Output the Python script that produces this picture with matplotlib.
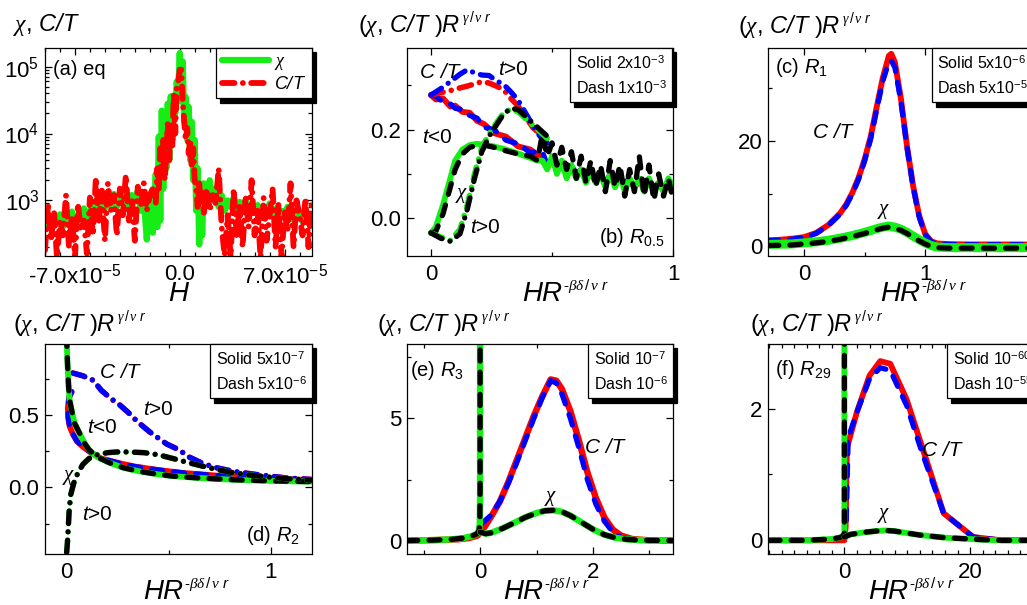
import matplotlib

matplotlib.use("Agg")
import matplotlib.pyplot as plt
import numpy as np
from matplotlib.lines import Line2D
from matplotlib.ticker import (FixedLocator, FormatStrFormatter, LogLocator,
                               NullFormatter, FixedFormatter)

plt.rcParams.update({
    "font.family": "Liberation Sans",
    "mathtext.fontset": "custom",
    "mathtext.rm": "Liberation Sans",
    "mathtext.it": "Liberation Serif:italic",
    "mathtext.sf": "Liberation Sans:italic",
    "lines.scale_dashes": False,
    "lines.solid_capstyle": "round",
    "lines.dash_capstyle": "round",
    "lines.solid_joinstyle": "round",
    "lines.dash_joinstyle": "round",
    "axes.linewidth": 0.9,
    "xtick.direction": "in", "ytick.direction": "in",
    "xtick.top": True, "ytick.right": True,
    "xtick.minor.visible": False, "ytick.minor.visible": False,
})

W, H = 1027, 605
GREEN = "#14ee14"
RED = "#ff0000"
BLUE = "#0000ff"
BLACK = "#000000"
DASH = (0, (8, 8))
DASHDOT = (0, (9, 6, 0.01, 6))

# ---------------------------------------------------------------- (a) eq
H_A = [-90, -88, -86, -84, -82, -80, -78, -76, -74, -72,
       -70, -68, -66, -64, -62, -60, -58, -56, -54, -52,
       -50, -48, -46, -44, -42, -40, -38, -36, -34, -32,
       -30, -28, -26, -24, -22, -20, -18, -16,
       -15, -14, -13, -12, -11, -10, -9, -8, -7, -6,
       -5, -4, -3, -2, -1, 0, 1, 2, 3, 4,
       5, 6, 7, 8, 9, 10, 11, 12, 13, 14,
       15, 16, 18, 20, 22, 24, 26, 28, 30, 32, 34,
       36, 38, 40, 42, 44, 46, 48, 50, 52, 54,
       56, 58, 60, 62, 64, 66, 68, 70, 72, 74,
       76, 78, 80, 82, 84, 86, 88]  # field in units of 1e-6
CHI_A = [430, 600, 380, 540, 450, 620, 400, 580, 470, 680,
         430, 600, 520, 760, 560, 700, 620, 980, 700, 1100,
         760, 1000, 820, 1250, 800, 1150, 900, 1300, 850, 1200,
         950, 1400, 700, 1000, 260, 1200, 330, 2500,
         400, 9000, 500, 22000, 1500, 15000, 3000, 28000, 4000, 36000,
         8000, 30000, 20000, 60000, 40000, 160000, 30000, 120000, 15000, 35000,
         8000, 25000, 4000, 15000, 2000, 8000, 700, 3000, 220, 1500,
         300, 1800, 900, 2000, 1000, 1500, 800, 1200, 700, 1000, 800,
         1100, 750, 950, 700, 1000, 650, 900, 700, 850, 600,
         800, 650, 900, 600, 750, 550, 700, 600, 800, 520,
         700, 560, 650, 480, 600, 450, 550]
CT_A = [180, 900, 250, 700, 140, 500, 300, 1200, 200, 600,
        140, 900, 350, 500, 160, 1100, 300, 2200, 500, 1400,
        250, 1800, 700, 1200, 300, 1500, 600, 2400, 500, 1100,
        250, 1600, 800, 1800, 700, 1200, 1500, 900,
        3000, 1400, 6000, 2500, 8000, 2000, 5000, 15000, 4000, 12000,
        6000, 40000, 10000, 50000, 60000, 90000, 90000, 30000, 15000, 8000,
        12000, 5000, 8000, 3000, 6000, 2000, 1500, 800, 1800, 900,
        1300, 600, 1500, 700, 1200, 900, 3000, 400, 150, 600, 140,
        1500, 300, 800, 200, 1200, 400, 2000, 300, 700, 140,
        1100, 250, 600, 1500, 200, 900, 140, 700, 350, 1800,
        200, 1000, 600, 300, 1100, 200, 900]

# ---------------------------------------------------------------- (b) R0.5
XB_NEG = [0.0, 0.02, 0.05, 0.08, 0.1, 0.13, 0.16, 0.19, 0.22, 0.26,
          0.31, 0.36, 0.41, 0.44,
          0.46, 0.48, 0.50, 0.52, 0.54, 0.56, 0.58, 0.60, 0.62, 0.64,
          0.66, 0.68, 0.70, 0.72, 0.74, 0.76, 0.78, 0.80, 0.82, 0.84,
          0.86, 0.88, 0.90, 0.92, 0.94, 0.96, 0.98, 1.00]
CHI_B_NEG_SOLID = [-0.033, -0.02, 0.03, 0.09, 0.13, 0.155, 0.165, 0.168, 0.166, 0.162,
                   0.155, 0.146, 0.136, 0.13,
                   0.13, 0.11, 0.14, 0.10, 0.13, 0.09, 0.12, 0.09, 0.11, 0.08,
                   0.11, 0.08, 0.10, 0.07, 0.10, 0.07, 0.10, 0.06, 0.09, 0.07,
                   0.09, 0.06, 0.09, 0.06, 0.08, 0.06, 0.09, 0.07]
CHI_B_NEG_DASH = [-0.033, -0.03, 0.01, 0.07, 0.11, 0.145, 0.16, 0.164, 0.165, 0.16,
                  0.152, 0.145, 0.14, 0.13,
                  0.19, 0.14, 0.17, 0.12, 0.16, 0.11, 0.15, 0.09, 0.14, 0.08,
                  0.13, 0.07, 0.12, 0.06, 0.13, 0.07, 0.12, 0.05, 0.11, 0.06,
                  0.14, 0.05, 0.12, 0.04, 0.10, 0.05, 0.09, 0.04]
CT_B_NEG_SOLID = [0.278, 0.268, 0.27, 0.252, 0.254, 0.24, 0.238, 0.22, 0.212, 0.192,
                  0.184, 0.162, 0.155, 0.143,
                  0.14, 0.12, 0.13, 0.11, 0.12, 0.10, 0.11, 0.095, 0.11, 0.09,
                  0.10, 0.085, 0.10, 0.08, 0.09, 0.08, 0.09, 0.075, 0.085, 0.07,
                  0.085, 0.07, 0.08, 0.065, 0.08, 0.065, 0.075, 0.065]
CT_B_NEG_DASH = [0.278, 0.275, 0.262, 0.258, 0.248, 0.245, 0.232, 0.226, 0.205, 0.2,
                 0.176, 0.168, 0.148, 0.15,
                 0.15, 0.12, 0.14, 0.11, 0.12, 0.10, 0.12, 0.10, 0.11, 0.09,
                 0.11, 0.09, 0.10, 0.08, 0.10, 0.08, 0.09, 0.08, 0.09, 0.07,
                 0.085, 0.07, 0.08, 0.07, 0.08, 0.065, 0.075, 0.065]
XB_POS = [0.0, 0.04, 0.08, 0.12, 0.15, 0.18, 0.21, 0.24, 0.27, 0.3,
          0.33, 0.36, 0.39, 0.42, 0.45, 0.48]
CT_B_POS_SOLID = [0.278, 0.283, 0.288, 0.294, 0.298, 0.303, 0.308, 0.305, 0.298, 0.29,
                  0.27, 0.253, 0.23, 0.205, 0.19, 0.175]
CT_B_POS_DASH = [0.278, 0.292, 0.308, 0.325, 0.335, 0.328, 0.323, 0.322, 0.31, 0.302,
                 0.285, 0.266, 0.238, 0.21, 0.185, 0.17]
CHI_B_POS_SOLID = [-0.033, -0.042, -0.05, -0.025, 0.03, 0.1, 0.16, 0.19, 0.215, 0.238,
                   0.246, 0.24, 0.225, 0.21, 0.195, 0.18]
CHI_B_POS_DASH = [-0.033, -0.045, -0.052, -0.035, 0.02, 0.09, 0.15, 0.185, 0.21, 0.235,
                  0.248, 0.245, 0.23, 0.215, 0.2, 0.185]

# ---------------------------------------------------------------- (c) R1
XC_CT = [-0.3, -0.2, -0.1, 0.0, 0.1, 0.2, 0.3, 0.35, 0.4, 0.45, 0.5, 0.55, 0.6, 0.65,
         0.7, 0.72, 0.75, 0.8, 0.85, 0.9, 0.95, 1.0, 1.05, 1.1, 1.2, 1.4, 1.6, 1.9]
CT_C_SOLID = [1.1, 1.2, 1.4, 1.7, 2.5, 4.0, 6.3, 8.0, 10.2, 13.0, 16.5, 20.8, 26.5, 32.0,
              36.2, 36.6, 35.0, 28.0, 19.0, 11.5, 5.8, 2.3, 0.9, 0.5, 0.35, 0.3, 0.3, 0.3]
CT_C_DASH = [1.0, 1.1, 1.3, 1.6, 2.4, 3.9, 6.1, 7.8, 10.0, 12.7, 16.2, 20.4, 26.0, 31.4,
             35.0, 35.3, 34.0, 27.5, 18.8, 11.3, 5.6, 2.2, 0.8, 0.4, 0.3, 0.25, 0.25, 0.25]
XC_CHI = [-0.3, -0.1, 0.0, 0.1, 0.2, 0.3, 0.4, 0.5, 0.6, 0.65, 0.7, 0.75,
          0.8, 0.85, 0.9, 0.95, 1.0, 1.05, 1.1, 1.2, 1.4, 1.6, 1.9]
CHI_C_SOLID = [0.3, 0.4, 0.6, 0.8, 1.1, 1.5, 2.0, 2.6, 3.3, 3.6, 3.8, 3.6,
               3.2, 2.6, 1.9, 1.2, 0.6, 0.1, -0.2, -0.3, -0.3, -0.3, -0.3]
CHI_C_DASH = [0.1, 0.2, 0.4, 0.6, 0.9, 1.3, 1.8, 2.4, 3.1, 3.4, 3.6, 3.4,
              3.0, 2.4, 1.7, 1.0, 0.4, -0.1, -0.3, -0.4, -0.4, -0.4, -0.4]

# ---------------------------------------------------------------- (d) R2
XD_CHI_NEG = [0.0, 0.003, 0.006, 0.01, 0.015, 0.025, 0.04, 0.065, 0.09, 0.11,
              0.15, 0.21, 0.28, 0.36, 0.45, 0.52, 0.65, 0.82, 1.0, 1.2]
CHI_D_NEG = [1.05, 0.9, 0.8, 0.69, 0.6, 0.53, 0.44, 0.37, 0.3, 0.26,
             0.21, 0.17, 0.135, 0.11, 0.09, 0.078, 0.065, 0.053, 0.045, 0.04]
XD_CT_NEG = [0.025, 0.012, 0.006, 0.008, 0.015, 0.03, 0.05, 0.08, 0.12, 0.17,
             0.25, 0.33, 0.45, 0.57, 0.75, 0.98, 1.2]
CT_D_NEG = [0.66, 0.62, 0.55, 0.48, 0.42, 0.37, 0.32, 0.28, 0.24, 0.2,
            0.17, 0.145, 0.12, 0.1, 0.08, 0.064, 0.05]
XD_CT_POS = [0.03, 0.08, 0.13, 0.17, 0.22, 0.26, 0.3, 0.35, 0.41, 0.45,
             0.49, 0.55, 0.6, 0.66, 0.72, 0.82, 0.95, 1.08, 1.2]
CT_D_POS = [0.79, 0.77, 0.74, 0.67, 0.61, 0.57, 0.52, 0.45, 0.38, 0.34,
            0.3, 0.26, 0.21, 0.17, 0.14, 0.11, 0.085, 0.065, 0.055]
XD_CHI_POS = [0.0, 0.004, 0.008, 0.012, 0.02, 0.035, 0.055, 0.08, 0.11, 0.15,
              0.2, 0.25, 0.3, 0.38, 0.45, 0.52, 0.6, 0.7, 0.8, 0.9, 1.0, 1.1, 1.2]
CHI_D_POS = [-0.45, -0.38, -0.28, -0.17, -0.05, 0.03, 0.1, 0.16, 0.2, 0.225,
             0.24, 0.245, 0.245, 0.24, 0.225, 0.2, 0.17, 0.135, 0.105, 0.085, 0.07, 0.058, 0.05]

# ---------------------------------------------------------------- (e) R3
XE_CT = [-1.3, -0.8, -0.4, -0.2, -0.05, 0.05, 0.2, 0.35, 0.5, 0.65, 0.8, 0.95, 1.1,
         1.25, 1.35, 1.45, 1.6, 1.75, 1.9, 2.05, 2.2, 2.35, 2.5, 2.7, 3.0, 3.42]
CT_E_SOLID = [0.0, 0.02, 0.05, 0.1, 0.2, 0.45, 1.0, 1.6, 2.4, 3.3, 4.2, 5.1, 5.9,
              6.6, 6.55, 6.2, 5.3, 4.1, 2.8, 1.75, 0.95, 0.45, 0.2, 0.06, 0.01, 0.0]
XE_CT_DASH = [0.03, 0.2, 0.35, 0.5, 0.65, 0.8, 0.95, 1.1, 1.25, 1.35, 1.45, 1.6,
              1.75, 1.9, 2.05, 2.2, 2.35, 2.5, 2.7, 3.0, 3.42]
CT_E_DASH = [0.7, 1.05, 1.6, 2.35, 3.2, 4.1, 5.0, 5.85, 6.55, 6.45, 6.0, 5.0,
             3.8, 2.5, 1.5, 0.8, 0.35, 0.12, 0.03, 0.0, 0.0]
XE_CHI_NEG = [-1.3, -0.8, -0.5, -0.3, -0.15, -0.06, -0.02, -0.005, 0.0, 0.0]
CHI_E_NEG = [0.0, 0.02, 0.05, 0.1, 0.18, 0.27, 0.4, 0.7, 2.0, 9.0]
XE_CHI_POS = [0.0, 0.1, 0.2, 0.4, 0.6, 0.8, 1.0, 1.15, 1.3, 1.45, 1.6, 1.8, 2.0,
              2.2, 2.4, 2.6, 2.8, 3.0, 3.42]
CHI_E_POS = [0.35, 0.28, 0.32, 0.5, 0.72, 0.95, 1.13, 1.22, 1.24, 1.18, 1.02, 0.74, 0.46,
             0.24, 0.11, 0.05, 0.02, 0.01, 0.0]

# ---------------------------------------------------------------- (f) R29
XF_CT = [-12, -1, 0.0, 0.2, 0.4, 2, 4, 5.7, 7.3, 9.9, 15.8, 20.5, 25, 30.5]
CT_F_SOLID = [0, 0, 0, 0.2, 1.4, 1.95, 2.5, 2.72, 2.68, 2.14, 0.41, 0.05, 0.0, 0.0]
XF_CT_DASH = [0.3, 0.6, 2, 4, 5.7, 7.3, 9.9, 12.3, 15.8, 20.5, 25, 30.5]
CT_F_DASH = [0.3, 1.55, 1.95, 2.45, 2.62, 2.58, 2.05, 1.35, 0.41, 0.05, 0.0, 0.0]
XF_CHI_NEG = [-12, -6, -2, -0.8, -0.3, 0.0, 0.0]
CHI_F_NEG = [0.0, 0.0, 0.02, 0.04, 0.06, 0.1, 3.2]
XF_CHI_POS = [0.0, 1, 3, 5, 6.5, 8, 10, 12, 14, 16, 18, 20, 22, 25, 30.5]
CHI_F_POS = [0.05, 0.09, 0.12, 0.14, 0.15, 0.14, 0.11, 0.08, 0.06, 0.04, 0.03, 0.02,
             0.01, 0.0, 0.0]

fig = plt.figure(figsize=(W / 100, H / 100), dpi=100)


def make_axes(left, top, bottom, width=266.5):
    return fig.add_axes([left / W, 1 - bottom / H, width / W, (bottom - top) / H])


def style_ticks(ax, xmaj, xmin, ymaj, ymin, xfmt, yfmt):
    ax.xaxis.set_major_locator(FixedLocator(xmaj))
    ax.xaxis.set_minor_locator(FixedLocator(xmin))
    ax.yaxis.set_major_locator(FixedLocator(ymaj))
    ax.yaxis.set_minor_locator(FixedLocator(ymin))
    ax.xaxis.set_major_formatter(FormatStrFormatter(xfmt))
    ax.yaxis.set_major_formatter(FormatStrFormatter(yfmt))
    ax.xaxis.set_minor_formatter(NullFormatter())
    ax.yaxis.set_minor_formatter(NullFormatter())


def finish(ax):
    ax.tick_params(which="major", length=5, width=0.9, pad=4, labelsize=16)
    ax.tick_params(which="minor", length=3, width=0.9)
    ax.tick_params(axis="x", which="major", pad=6)


def label_box(ax, lines, x0, fontsize=11.5):
    handles = [Line2D([], [], lw=0) for _ in lines]
    leg = ax.legend(handles, lines, loc="upper left", bbox_to_anchor=(x0, 1.0),
                    borderaxespad=0, handlelength=0, handletextpad=0,
                    fontsize=fontsize, frameon=True, fancybox=False,
                    framealpha=1, edgecolor="black", borderpad=0.35,
                    labelspacing=0.45,
                    shadow={"color": "black", "alpha": 1, "ox": 3, "oy": -3})
    leg.get_frame().set_linewidth(0.9)
    return leg


def sup_label(ax, x, y, base, sup, size, sup_size, dx=1.0, dy=1.0, italic=False):
    t = fig.text(x / W, 1 - y / H, base, fontsize=size, va="baseline", ha="left",
                 fontstyle="italic" if italic else "normal")
    ax.annotate(sup, xy=(1, 1), xycoords=t, xytext=(dx, dy),
                textcoords="offset points", fontsize=sup_size, va="top",
                ha="left", annotation_clip=False)


def ylabel(ax, x, y):
    sup_label(ax, x, y, r"($\chi$, $\mathsf{C/T}$ )$\mathsf{R}$",
              r"$\gamma\,/\,\nu$ $\mathsf{r}$", 17, 10, dx=1, dy=2)


def xlabel(ax, x, y):
    sup_label(ax, x, y, "HR", r"-$\beta\delta\,/\,\nu$ $\mathsf{r}$", 20, 11,
              dx=1, dy=3, italic=True)


def note(ax, fx, fy, s, size=15, **kw):
    ax.text(fx, fy, s, transform=ax.transAxes, fontsize=size, va="baseline", **kw)


def pair(ax, x, y_solid, y_dash, c_solid, c_dash, x_dash=None, lw=4.2, lw_dash=3.8,
         style_solid="-", style_dash=DASH):
    ax.plot(x, y_solid, color=c_solid, lw=lw, ls=style_solid)
    ax.plot(x if x_dash is None else x_dash, y_dash, color=c_dash, lw=lw_dash,
            ls=style_dash)


# ---------------------------------------------------------------- panel (a)
ax = make_axes(45, 48, 255.5)
ha = np.array(H_A) * 1e-6
ax.plot(ha, CHI_A, color=GREEN, lw=4.5, ls="-")
ax.plot(ha, CT_A, color=RED, lw=4.2, ls=DASHDOT)
ax.set_yscale("log")
ax.set_xlim(-9.0e-5, 8.8e-5)
ax.set_ylim(150, 1.9e5)
ax.xaxis.set_major_locator(FixedLocator([-7e-5, 0, 7e-5]))
ax.xaxis.set_major_formatter(FixedFormatter([r"-7.0x10$^{-5}$", "0.0", r"7.0x10$^{-5}$"]))
ax.xaxis.set_minor_locator(FixedLocator(np.arange(-9, 9) * 1e-5))
ax.yaxis.set_major_locator(LogLocator(base=10))
ax.yaxis.set_minor_locator(LogLocator(base=10, subs=np.arange(2, 10)))
ax.yaxis.set_minor_formatter(NullFormatter())
finish(ax)
leg = ax.legend([Line2D([], [], color=GREEN, lw=4.5),
                 Line2D([], [], color=RED, lw=4.2, ls=DASHDOT)],
                [r"$\chi$", r"$\mathsf{C/T}$"], loc="upper right",
                bbox_to_anchor=(1.0, 1.0), borderaxespad=0, fontsize=13,
                handlelength=2.6, handletextpad=0.3, borderpad=0.3,
                labelspacing=0.2, frameon=True, fancybox=False, framealpha=1,
                edgecolor="black",
                shadow={"color": "black", "alpha": 1, "ox": 3, "oy": -3})
leg.get_frame().set_linewidth(0.9)
note(ax, 0.03, 0.87, "(a) eq", size=14.5)
fig.text(13 / W, 1 - 31 / H, r"$\chi$, $\mathsf{C/T}$", fontsize=17, va="baseline")
fig.text(178 / W, 1 - 301 / H, "H", fontsize=20, fontstyle="italic",
         ha="center", va="baseline")

# ---------------------------------------------------------------- panel (b)
ax = make_axes(406.7, 48, 255.5)
pair(ax, XB_NEG, CT_B_NEG_SOLID, CT_B_NEG_DASH, RED, BLUE)
pair(ax, XB_POS, CT_B_POS_SOLID, CT_B_POS_DASH, RED, BLUE,
     style_solid=DASHDOT, style_dash=DASHDOT, lw=4.0)
pair(ax, XB_NEG, CHI_B_NEG_SOLID, CHI_B_NEG_DASH, GREEN, BLACK)
pair(ax, XB_POS, CHI_B_POS_SOLID, CHI_B_POS_DASH, GREEN, BLACK,
     style_solid=DASHDOT, style_dash=DASHDOT, lw=4.0)
ax.set_xlim(-0.1, 1.0)
ax.set_ylim(-0.084, 0.384)
style_ticks(ax, [0, 1], [0.5], [0.0, 0.2], [0.1, 0.3], "%g", "%.1f")
finish(ax)
label_box(ax, [r"Solid 2x10$^{-3}$", r"Dash 1x10$^{-3}$"], 0.613)
note(ax, 0.05, 0.855, "C /T", fontstyle="italic")
note(ax, 0.343, 0.87, r"$\mathsf{t}$>0")
note(ax, 0.057, 0.542, r"$\mathsf{t}$<0")
note(ax, 0.181, 0.277, r"$\chi$")
note(ax, 0.238, 0.108, r"$\mathsf{t}$>0")
note(ax, 0.97, 0.06, r"(b) $\mathsf{R}_{0.5}$", size=14.5, ha="right")
ylabel(ax, 358, 32)
xlabel(ax, 522, 301)

# ---------------------------------------------------------------- panel (c)
ax = make_axes(767.7, 48, 255.5)
pair(ax, XC_CT, CT_C_SOLID, CT_C_DASH, RED, BLUE)
pair(ax, XC_CHI, CHI_C_SOLID, CHI_C_DASH, GREEN, BLACK, lw=6.5)
ax.set_xlim(-0.3, 1.9)
ax.set_ylim(-1.8, 37.7)
style_ticks(ax, [0, 1], [0.5, 1.5], [0, 20], [10, 30], "%g", "%g")
finish(ax)
label_box(ax, [r"Solid 5x10$^{-6}$", r"Dash 5x10$^{-5}$"], 0.615)
note(ax, 0.027, 0.88, r"(c) $\mathsf{R}_{1}$", size=14.5)
note(ax, 0.17, 0.566, "C /T", fontstyle="italic")
note(ax, 0.41, 0.2, r"$\chi$")
ylabel(ax, 738, 33)
xlabel(ax, 880, 301)

# ---------------------------------------------------------------- panel (d)
ax = make_axes(45, 344, 553.5)
pair(ax, XD_CT_NEG, CT_D_NEG, CT_D_NEG, RED, BLUE)
pair(ax, XD_CT_POS, CT_D_POS, CT_D_POS, RED, BLUE,
     style_solid=DASHDOT, style_dash=DASHDOT, lw=4.0)
pair(ax, XD_CHI_NEG, CHI_D_NEG, CHI_D_NEG, GREEN, BLACK)
pair(ax, XD_CHI_POS, CHI_D_POS, CHI_D_POS, GREEN, BLACK,
     style_solid=DASHDOT, style_dash=DASHDOT, lw=4.0)
ax.set_xlim(-0.106, 1.2)
ax.set_ylim(-0.456, 0.99)
style_ticks(ax, [0, 1], [0.5], [0.0, 0.5], [-0.25, 0.25, 0.75], "%g", "%.1f")
finish(ax)
label_box(ax, [r"Solid 5x10$^{-7}$", r"Dash 5x10$^{-6}$"], 0.619)
note(ax, 0.206, 0.838, "C /T", fontstyle="italic")
note(ax, 0.368, 0.661, r"$\mathsf{t}$>0")
note(ax, 0.158, 0.575, r"$\mathsf{t}$<0")
note(ax, 0.064, 0.351, r"$\chi$")
note(ax, 0.139, 0.16, r"$\mathsf{t}$>0")
note(ax, 0.957, 0.06, r"(d) $\mathsf{R}_{2}$", size=14.5, ha="right")
ylabel(ax, 13, 331)
xlabel(ax, 143, 599)

# ---------------------------------------------------------------- panel (e)
ax = make_axes(406.7, 344, 553.5)
pair(ax, XE_CT, CT_E_SOLID, CT_E_DASH, RED, BLUE, x_dash=XE_CT_DASH, lw=4.6)
pair(ax, XE_CHI_NEG, CHI_E_NEG, CHI_E_NEG, GREEN, BLACK, lw=4.6)
pair(ax, XE_CHI_POS, CHI_E_POS, CHI_E_POS, GREEN, BLACK, lw=4.6)
ax.set_xlim(-1.3, 3.42)
ax.set_ylim(-0.53, 8.05)
style_ticks(ax, [0, 2], [-1, 1, 3], [0, 5], [2.5, 7.5], "%g", "%g")
finish(ax)
label_box(ax, [r"Solid 10$^{-7}$", r"Dash 10$^{-6}$"], 0.68)
note(ax, 0.012, 0.847, r"(e) $\mathsf{R}_{3}$", size=14.5)
note(ax, 0.669, 0.48, "C /T", fontstyle="italic")
note(ax, 0.515, 0.25, r"$\chi$")
ylabel(ax, 377, 331)
xlabel(ax, 503, 599)

# ---------------------------------------------------------------- panel (f)
ax = make_axes(767.7, 344, 553.5)
pair(ax, XF_CT, CT_F_SOLID, CT_F_DASH, RED, BLUE, x_dash=XF_CT_DASH)
pair(ax, XF_CHI_NEG, CHI_F_NEG, CHI_F_NEG, GREEN, BLACK)
pair(ax, XF_CHI_POS, CHI_F_POS, CHI_F_POS, GREEN, BLACK)
ax.set_xlim(-12.2, 30.2)
ax.set_ylim(-0.2, 2.98)
style_ticks(ax, [0, 20], np.arange(-12, 31, 2), [0, 2], [1], "%g", "%g")
finish(ax)
label_box(ax, [r"Solid 10$^{-60}$", r"Dash 10$^{-55}$"], 0.673)
note(ax, 0.027, 0.852, r"(f) $\mathsf{R}_{29}$", size=14.5)
note(ax, 0.579, 0.466, "C /T", fontstyle="italic")
note(ax, 0.41, 0.169, r"$\chi$")
ylabel(ax, 750, 331)
xlabel(ax, 868, 599)

fig.savefig("out.png", dpi=100)
